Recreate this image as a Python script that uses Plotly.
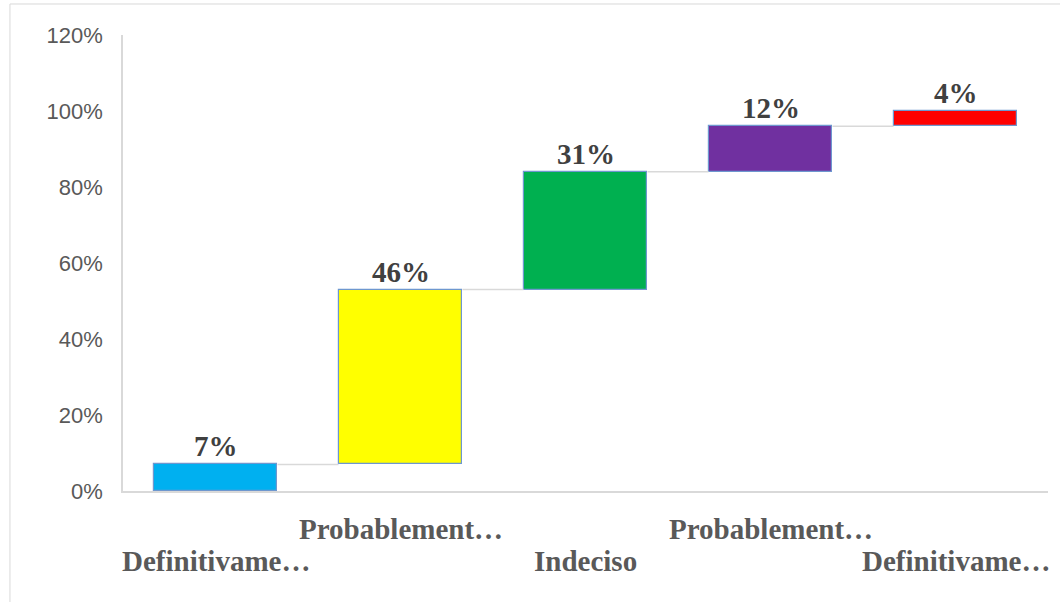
import plotly.graph_objects as go

# Survey answers and their share of responses
categories = ["Definitivame…", "Probablement…", "Indeciso", "Probablement…", "Definitivame…"]
shares = [0.07, 0.46, 0.31, 0.12, 0.04]
bar_colors = ["#00B0F0", "#FFFF00", "#00B050", "#7030A0", "#FF0000"]
y_ticks = [0, 0.2, 0.4, 0.6, 0.8, 1.0, 1.2]
y_tick_labels = ["0%", "20%", "40%", "60%", "80%", "100%", "120%"]

# running totals for the floating waterfall bars
bases = []
tops = []
running = 0.0
for s in shares:
    bases.append(running)
    running += s
    tops.append(running)

x_pos = list(range(len(categories)))
bar_w = 0.67

fig = go.Figure()

# connector lines between consecutive bars
for i in range(len(categories) - 1):
    fig.add_trace(go.Scatter(
        x=[x_pos[i] + bar_w / 2, x_pos[i + 1] - bar_w / 2],
        y=[tops[i], tops[i]],
        mode="lines",
        line=dict(color="#D9D9D9", width=1.5),
        hoverinfo="skip",
        showlegend=False,
    ))

fig.add_trace(go.Bar(
    x=x_pos,
    y=shares,
    base=bases,
    width=bar_w,
    marker=dict(color=bar_colors, line=dict(color="#6E97CF", width=1.2)),
    showlegend=False,
))

# value labels above each bar
for i, s in enumerate(shares):
    fig.add_annotation(
        x=x_pos[i], y=tops[i], xref="x", yref="y",
        text=f"<b>{round(s * 100)}%</b>",
        showarrow=False, yanchor="bottom", yshift=0,
        font=dict(family="Liberation Serif", size=29, color="#404040"),
    )

# staggered category labels under the axis
for i, c in enumerate(categories):
    fig.add_annotation(
        x=x_pos[i], y=0, xref="x", yref="paper",
        text=f"<b>{c}</b>",
        showarrow=False, yanchor="middle",
        yshift=-70 if i % 2 == 0 else -38,
        font=dict(family="Liberation Serif", size=29, color="#595959"),
    )

# light frame around the chart area
fig.add_shape(
    type="rect", xref="paper", yref="paper",
    x0=-0.1222, x1=1.03, y0=-0.27, y1=1.068,
    line=dict(color="#D9D9D9", width=1), layer="below",
)

fig.update_layout(
    width=1060, height=602,
    margin=dict(l=123, r=12, t=35, b=111),
    plot_bgcolor="white", paper_bgcolor="white",
    bargap=0,
)
fig.update_xaxes(
    range=[-0.5, 4.5], showticklabels=False, showgrid=False, zeroline=False,
    showline=True, linecolor="#D9D9D9", linewidth=1.5, ticks="",
)
fig.update_yaxes(
    range=[0, 1.2], tickvals=y_ticks, ticktext=y_tick_labels,
    showgrid=False, zeroline=False, showline=True, linecolor="#D9D9D9", linewidth=1.5,
    ticks="", ticklabelstandoff=14,
    tickfont=dict(family="Liberation Sans", size=22, color="#595959"),
)

fig.write_html("out.html")
